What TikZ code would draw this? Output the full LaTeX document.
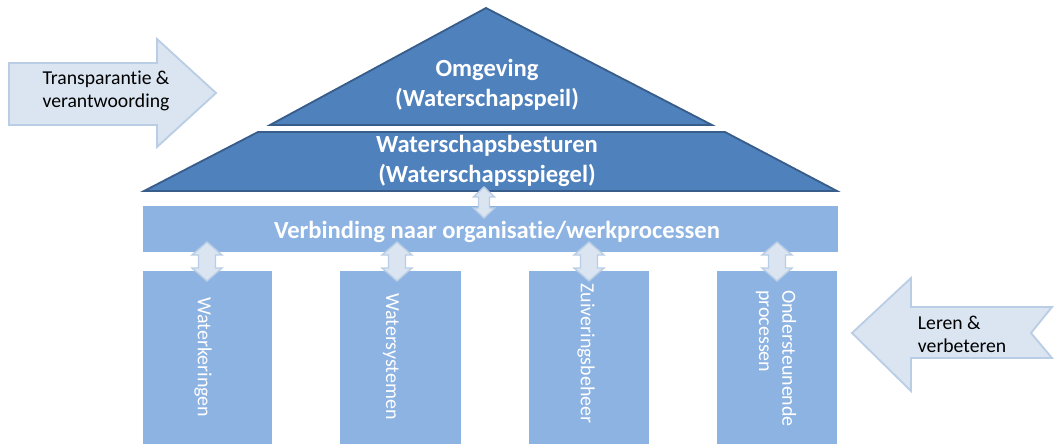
\documentclass[tikz,border=0pt]{standalone}
\usepackage{fontspec}
\setmainfont{Carlito}[Ligatures=NoCommon,RawFeature={-clig;-dlig}]
\definecolor{dkblue}{HTML}{4F81BD}
\definecolor{dkedge}{HTML}{385D8A}
\definecolor{ltblue}{HTML}{8DB3E2}
\definecolor{palefill}{HTML}{DBE5F1}
\definecolor{paleedge}{HTML}{B9CDE5}
\tikzset{
  roof/.style={fill=dkblue,draw=dkedge,line width=1.3pt,line join=miter},
  pillar/.style={fill=ltblue},
  bigtext/.style={text=white,font=\fontsize{17.5pt}{21.5pt}\selectfont\bfseries,align=center},
  coltext/.style={text=white,font=\fontsize{14.2pt}{16.5pt}\selectfont,rotate=-90,anchor=west,inner sep=0pt,align=left},
  sidetext/.style={text=black,font=\fontsize{14pt}{16.3pt}\selectfont,align=left},
  bigarrow/.style={fill=palefill,draw=paleedge,line width=1.3pt,line join=miter},
  dblarrow/.style={fill=palefill,draw=paleedge,line width=1pt,line join=miter}
}
% x, ytop, ybottom, half head width, half shaft width, head length
\newcommand\vdbl[6]{%
  \filldraw[dblarrow] (#1,#2) -- (#1+#4,#2+#6) -- (#1+#5,#2+#6) -- (#1+#5,#3-#6) -- (#1+#4,#3-#6)
   -- (#1,#3) -- (#1-#4,#3-#6) -- (#1-#5,#3-#6) -- (#1-#5,#2+#6) -- (#1-#4,#2+#6) -- cycle;}
\begin{document}
\begin{tikzpicture}[x=0.025cm,y=-0.025cm]
\useasboundingbox (0,0) rectangle (1055,443);
\begin{scope}
\clip (0,0) rectangle (1055,443);
% left arrow
\filldraw[bigarrow] (9,63) -- (157,63) -- (157,39) -- (216,93) -- (157,147) -- (157,125) -- (9,125) -- cycle;
\node[sidetext] (transp) at (106,91) {Transparantie \&\\verantwoording};
% right arrow (notched tail)
\filldraw[bigarrow] (852,333) -- (911,278) -- (911,307) -- (1052,307) -- (1031,333) -- (1052,358) -- (911,358) -- (911,391) -- cycle;
\node[sidetext,anchor=west] (leren) at (913,334) {Leren \&\\verbeteren};
% roof triangle
\filldraw[roof] (486,8) -- (712,125) -- (270,125) -- cycle;
\node[bigtext] (omg) at (487,85) {Omgeving\\(Waterschapspeil)};
% trapezoid
\filldraw[roof] (258,132) -- (725,132) -- (837,191) -- (144,191) -- cycle;
\node[bigtext] (bestuur) at (487,161) {Waterschapsbesturen\\(Waterschapsspiegel)};
% bar
\fill[pillar] (143,206) rectangle (838,252);
\node[bigtext] (bar) at (497,232) {Verbinding naar organisatie/werkprocessen};
% pillars
\fill[pillar] (143,271) rectangle (272,450);
\fill[pillar] (340,271) rectangle (461,450);
\fill[pillar] (529,271) rectangle (649,450);
\fill[pillar] (717,271) rectangle (837,450);
\node[coltext] (c1) at (203,297) {Waterkeringen};
\node[coltext] (c2) at (391,293) {Watersystemen};
\node[coltext] (c3) at (586,283) {Zuiveringsbeheer};
\node[coltext] (c4) at (776,290) {Ondersteunende\\processen};
% double arrows
\vdbl{484}{187}{218}{10.5}{5.5}{10}
\vdbl{207}{242}{281}{15}{8.5}{13}
\vdbl{397}{242}{281}{15}{8.5}{13}
\vdbl{589}{242}{281}{15}{8.5}{13}
\vdbl{777}{242}{281}{15}{8.5}{13}
\end{scope}
\end{tikzpicture}
\end{document}
